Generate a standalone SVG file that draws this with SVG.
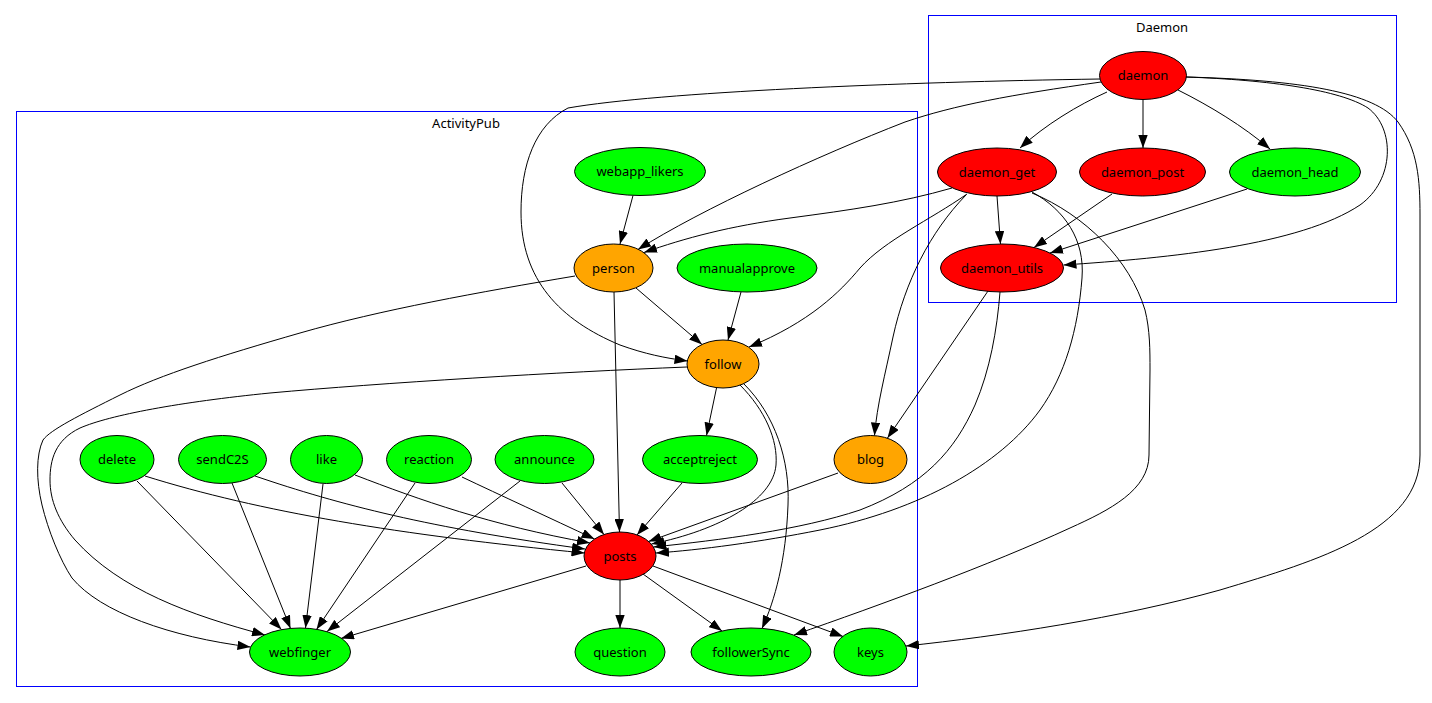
<svg xmlns="http://www.w3.org/2000/svg" width="1432" height="703" viewBox="0 0 1432 703">
<defs>
<marker id="ah" markerUnits="userSpaceOnUse" markerWidth="13" markerHeight="9.4" viewBox="0 0 13 9.4" refX="13" refY="4.7" orient="auto">
<path d="M0,0 L13,4.7 L0,9.4 z" fill="#000"/>
</marker>
</defs>
<style>
.cl{fill:none;stroke:#0000ff;stroke-width:1}
.cll{font-family:"Noto Sans",sans-serif;font-size:13px;fill:#000;text-anchor:middle}
.n ellipse{stroke:#000;stroke-width:1}
.n text{font-family:"Noto Sans",sans-serif;font-size:13px;fill:#000;text-anchor:middle}
.r ellipse{fill:#ff0000}
.g ellipse{fill:#00ff00}
.o ellipse{fill:#ffa500}
#edges path{fill:none;stroke:#000;stroke-width:1;marker-end:url(#ah)}
</style>
<rect width="1432" height="703" fill="#fff"/>
<g id="cluster_daemon"><rect class="cl" x="928.5" y="15.5" width="468" height="287"/><text class="cll" x="1162" y="31.5">Daemon</text></g>
<g id="cluster_activitypub"><rect class="cl" x="16.5" y="111.5" width="901" height="575"/><text class="cll" x="466" y="128">ActivityPub</text></g>
<g id="edges">
<path d="M1107,92 C1078,105 1045,125 1020,148"/>
<path d="M1143,99.5 L1143,148"/>
<path d="M1178,90 C1210,106 1243,126 1270,149"/>
<path d="M1186,77 C1270,80 1340,90 1368,108 C1395,128 1395,180 1360,205 C1300,245 1170,258 1063.5,265"/>
<path d="M1186,77 C1300,80 1375,92 1398,122 C1418,150 1420,180 1420,215 L1420,455 C1420,530 1320,560 1220,590 C1120,618 1000,636 906,646"/>
<path d="M1101,82 C1010,95 955,105 905,122 C820,155 700,210 638,249.5"/>
<path d="M1100,79 C900,82 660,92 568,108 C535,125 521,165 521,212 C521,280 560,320 620,345 C645,354 665,358 687.5,361"/>
<path d="M952,188 C900,203 850,210 790,218 C730,226 685,238 644,252.5"/>
<path d="M997,196 L1000.5,244"/>
<path d="M967,194 C930,220 885,240 860,268 C840,292 810,322 749,347"/>
<path d="M966,195 C930,232 905,282 893,337 C885,375 877,405 874.5,435.5"/>
<path d="M1032,192 C1065,210 1085,240 1082,278 C1078,330 1065,375 1040,410 C1000,465 920,510 820,530 C760,542 700,550 656,553"/>
<path d="M1000,292 C997,330 990,370 975,405 C955,450 925,485 860,510 C800,530 720,540 653.5,547"/>
<path d="M1032,193 C1085,215 1130,260 1145,310 C1150,330 1150,350 1150,370 L1149,455 C1149,490 1110,510 1070,528 C990,565 880,605 794,635"/>
<path d="M1112,194 L1034,247.5"/>
<path d="M1247,189 L1050,253"/>
<path d="M988,291 L887.5,438"/>
<path d="M633,195.5 L620,244"/>
<path d="M741,292 L728,340"/>
<path d="M636,288 L702,344.5"/>
<path d="M614,292 L619.5,532"/>
<path d="M575,276 C480,292 380,310 300,333 C220,356 160,375 120,395 C80,415 50,430 43,440 C36,455 36,480 42,505 C48,530 60,560 72,578 C100,612 170,637 250.5,647"/>
<path d="M687,367 C560,372 380,383 270,393 C180,402 110,415 80,428 C55,440 50,460 50,480 C50,500 58,520 75,540 C120,590 190,615 265,635"/>
<path d="M716.5,388 L706.5,435.5"/>
<path d="M740,385 C765,410 778,440 776,465 C773,500 720,530 651.5,544"/>
<path d="M744,384 C775,415 790,460 788,505 C786,560 775,600 762,628.5"/>
<path d="M137,481 L281.5,629.5"/>
<path d="M145,476 C260,512 400,535 584.5,553"/>
<path d="M232,483 L290.5,628.5"/>
<path d="M255,476 C340,505 430,528 585,549"/>
<path d="M323,484 L305.5,628"/>
<path d="M355,475 C420,500 490,525 590,543"/>
<path d="M415,483 L316.5,629.5"/>
<path d="M462,477 C500,495 550,518 594.5,539"/>
<path d="M520,481 L327,631.5"/>
<path d="M562,483 L604,534.5"/>
<path d="M682,483 L637,535"/>
<path d="M838,473 L648.5,541.5"/>
<path d="M586,566 L341,638.5"/>
<path d="M620,580 L620,628"/>
<path d="M643,574 L722,631"/>
<path d="M653,566 L843,636.5"/>
</g>
<g id="daemon" class="n r"><ellipse cx="1143" cy="75.5" rx="43.5" ry="24"/><text x="1143" y="80">daemon</text></g>
<g id="daemon_get" class="n r"><ellipse cx="997" cy="172" rx="59.5" ry="24"/><text x="997" y="176.5">daemon_get</text></g>
<g id="daemon_post" class="n r"><ellipse cx="1142.5" cy="172" rx="63" ry="24"/><text x="1142.5" y="176.5">daemon_post</text></g>
<g id="daemon_head" class="n g"><ellipse cx="1295" cy="172" rx="65.5" ry="24"/><text x="1295" y="176.5">daemon_head</text></g>
<g id="daemon_utils" class="n r"><ellipse cx="1002" cy="268" rx="61.5" ry="24"/><text x="1002" y="272.5">daemon_utils</text></g>
<g id="webapp_likers" class="n g"><ellipse cx="640" cy="171.5" rx="65.5" ry="24"/><text x="640" y="176">webapp_likers</text></g>
<g id="person" class="n o"><ellipse cx="613.5" cy="268" rx="39.5" ry="24"/><text x="613.5" y="272.5">person</text></g>
<g id="manualapprove" class="n g"><ellipse cx="747" cy="268" rx="70" ry="24"/><text x="747" y="272.5">manualapprove</text></g>
<g id="follow" class="n o"><ellipse cx="723" cy="364" rx="36" ry="24"/><text x="723" y="368.5">follow</text></g>
<g id="delete" class="n g"><ellipse cx="117" cy="459.5" rx="37" ry="24"/><text x="117" y="464">delete</text></g>
<g id="sendC2S" class="n g"><ellipse cx="222.5" cy="459.5" rx="44" ry="24"/><text x="222.5" y="464">sendC2S</text></g>
<g id="like" class="n g"><ellipse cx="326.5" cy="459.5" rx="36" ry="24"/><text x="326.5" y="464">like</text></g>
<g id="reaction" class="n g"><ellipse cx="429" cy="459.5" rx="42.5" ry="24"/><text x="429" y="464">reaction</text></g>
<g id="announce" class="n g"><ellipse cx="544.5" cy="459.5" rx="49.5" ry="24"/><text x="544.5" y="464">announce</text></g>
<g id="acceptreject" class="n g"><ellipse cx="700" cy="459.5" rx="57.5" ry="24"/><text x="700" y="464">acceptreject</text></g>
<g id="blog" class="n o"><ellipse cx="870.5" cy="459.5" rx="36.5" ry="24"/><text x="870.5" y="464">blog</text></g>
<g id="posts" class="n r"><ellipse cx="620" cy="556" rx="36" ry="24"/><text x="620" y="560.5">posts</text></g>
<g id="webfinger" class="n g"><ellipse cx="300" cy="652" rx="50.5" ry="24"/><text x="300" y="656.5">webfinger</text></g>
<g id="question" class="n g"><ellipse cx="620" cy="652" rx="45" ry="24"/><text x="620" y="656.5">question</text></g>
<g id="followerSync" class="n g"><ellipse cx="751" cy="652" rx="60" ry="24"/><text x="751" y="656.5">followerSync</text></g>
<g id="keys" class="n g"><ellipse cx="870.5" cy="652" rx="36.5" ry="24"/><text x="870.5" y="656.5">keys</text></g>
</svg>
